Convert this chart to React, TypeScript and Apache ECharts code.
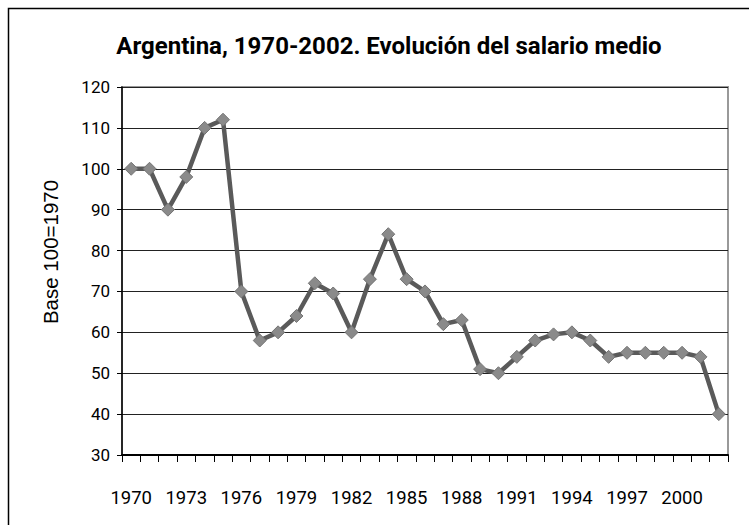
import React, { useEffect, useRef } from "react";
import * as echarts from "echarts";

const years: string[] = [
  "1970", "1971", "1972", "1973", "1974", "1975", "1976", "1977", "1978", "1979",
  "1980", "1981", "1982", "1983", "1984", "1985", "1986", "1987", "1988", "1989",
  "1990", "1991", "1992", "1993", "1994", "1995", "1996", "1997", "1998", "1999",
  "2000", "2001", "2002",
];
const salario: number[] = [
  100, 100, 90, 98, 110, 112, 70, 58, 60, 64,
  72, 69.5, 60, 73, 84, 73, 70, 62, 63, 51,
  50, 54, 58, 59.5, 60, 58, 54, 55, 55, 55,
  55, 54, 40,
];
const titleText = "Argentina, 1970-2002. Evolución del salario medio";
const yAxisName = "Base 100=1970";

const narrow = 'Roboto, "Liberation Sans", sans-serif';

export default function App() {
  const ref = useRef<HTMLDivElement>(null);
  useEffect(() => {
    if (!ref.current) return;
    const chart = echarts.init(ref.current, undefined, { renderer: "svg" });
    chart.setOption({
      animation: false,
      backgroundColor: "#ffffff",
      title: {
        text: titleText,
        left: 384,
        top: 29,
        textAlign: "center",
        textStyle: {
          fontFamily: narrow,
          fontWeight: "bold",
          fontSize: 24,
          color: "#000",
        },
      },
      graphic: [
        {
          type: "rect",
          shape: { x: 8.5, y: 8.5, width: 800, height: 600 },
          style: { fill: "none", stroke: "#000", lineWidth: 1.5 },
          silent: true,
          z: 100,
        },
        {
          type: "text",
          x: 50,
          y: 252,
          rotation: Math.PI / 2,
          style: {
            text: yAxisName,
            fontFamily: '"Liberation Sans", Arial, sans-serif',
            fontSize: 20.5,
            fill: "#000",
            align: "center",
            verticalAlign: "middle",
          },
          silent: true,
        },
      ],
      grid: {
        left: 122,
        right: 21,
        top: 87,
        bottom: 70,
        show: true,
        borderColor: "#999",
        borderWidth: 2,
      },
      xAxis: {
        type: "category",
        data: years,
        boundaryGap: true,
        axisLine: { lineStyle: { color: "#000", width: 2 } },
        axisTick: {
          show: true,
          interval: 0,
          length: 7,
          lineStyle: { color: "#000", width: 1 },
        },
        axisLabel: {
          interval: 2,
          margin: 33,
          fontFamily: narrow,
          fontSize: 18.5,
          color: "#000",
        },
        splitLine: { show: false },
      },
      yAxis: {
        type: "value",
        min: 30,
        max: 120,
        interval: 10,
        axisLine: { show: true, lineStyle: { color: "#000", width: 1.5 } },
        axisTick: { show: true, length: 5, lineStyle: { color: "#000" } },
        axisLabel: {
          margin: 12,
          fontFamily: narrow,
          fontSize: 17,
          color: "#000",
        },
        splitLine: { show: true, lineStyle: { color: "#222", width: 1 } },
      },
      series: [
        {
          type: "line",
          data: salario,
          symbol: "diamond",
          symbolSize: 13,
          showAllSymbol: true,
          lineStyle: { color: "#5a5a5a", width: 4.5 },
          itemStyle: { color: "#8a8a8a", borderColor: "#747474", borderWidth: 1 },
          z: 5,
        },
      ],
    });
    return () => chart.dispose();
  }, []);
  return (
    <div
      ref={ref}
      style={{ position: "fixed", left: 0, top: 0, width: 749, height: 525 }}
    />
  );
}
